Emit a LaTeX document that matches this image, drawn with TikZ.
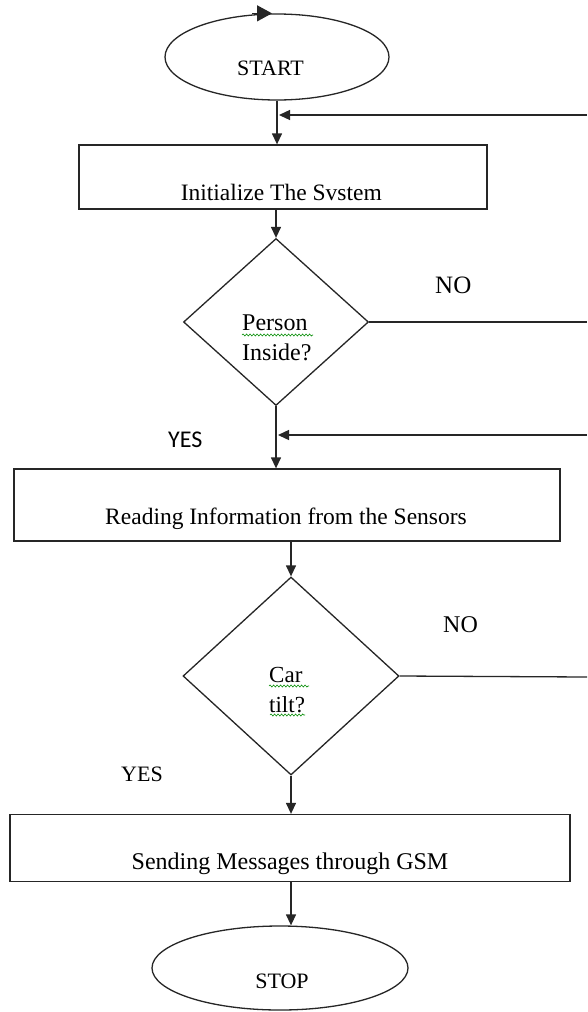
\documentclass[tikz,border=0pt]{standalone}
\usepackage{fontspec}
\setmainfont{Liberation Serif}
\newfontfamily\yesfont{Carlito}
\usetikzlibrary{shapes.geometric,arrows.meta,decorations.pathmorphing}
\begin{document}
\begin{tikzpicture}[x=1pt,y=-1pt,
  line/.style={line width=1.3pt, draw=black!85},
  arr/.style={line, -{Triangle[length=11pt,width=10pt]}},
  term/.style={ellipse, line, inner sep=0pt},
  proc/.style={rectangle, line, inner sep=0pt},
  dec/.style={diamond, line, inner sep=0pt},
  txt/.style={inner sep=0pt, font=\fontsize{23.5}{30}\selectfont},
  fs/.style={font=\fontsize{#1}{30}\selectfont},
  squig/.style={draw=green!55!black, line width=0.6pt, decorate,
    decoration={snake, amplitude=1pt, segment length=3.5pt}}
]
\useasboundingbox (0,0) rectangle (587,1012);
\fill[white] (0,0) rectangle (587,1012);

% shapes
\node[term, minimum width=224pt, minimum height=86pt] (start) at (277,57) {};
\node[proc, minimum width=408pt, minimum height=64pt] (init) at (283,177) {};
\node[dec, minimum width=185pt, minimum height=167pt] (d1) at (276,322) {};
\node[proc, minimum width=546pt, minimum height=72pt] (read) at (287,505) {};
\node[dec, minimum width=216pt, minimum height=198pt] (d2) at (291,676) {};
\node[proc, minimum width=560pt, minimum height=67pt] (send) at (290,848) {};
\node[term, minimum width=256pt, minimum height=84pt] (stop) at (280,968) {};

% texts
\node[txt, fs=22, anchor=base] (tstart) at (270.5,75) {START};
\node[txt, anchor=base east] (tinit) at (382,200) {Initialize The Svstem};
\node[txt, fs=24, anchor=base west, align=left] (td1) at (242,360) {Person\\Inside?};
\node[txt, fs=25, anchor=base west] (no1) at (435,293) {NO};
\node[inner sep=0pt, anchor=base west, font=\yesfont\fontsize{24}{26}\selectfont] (yes1) at (168,447) {YES};
\node[txt, anchor=base] (tread) at (286,524) {Reading Information from the Sensors};
\node[txt, fs=23, anchor=base west, align=left] (td2) at (269,712) {Car\\tilt?};
\node[txt, fs=24, anchor=base west] (no2) at (443,632) {NO};
\node[txt, fs=22, anchor=base west] (yes2) at (121,781) {YES};
\node[txt, fs=24, anchor=base] (tsend) at (290,869) {Sending Messages through GSM};
\node[txt, fs=22, anchor=base] (tstop) at (282,988) {STOP};

% spell-check squiggles
\draw[squig] (242,335) -- (313,335);
\draw[squig] (269,686) -- (309,686);
\draw[squig] (270,715) -- (305,715);

% free ends
\coordinate (fb1) at (587,115);
\coordinate (fb2) at (587,435);
\coordinate (no1end) at (587,322);
\coordinate (no2end) at (587,677);

% connectors
\draw[line, -{Triangle[length=15pt,width=16pt]}] ([xshift=-25pt]start.north) -- ([xshift=-5pt]start.north);
\draw[arr] (start.south) -- (start.south |- init.north);
\draw[arr, shorten >=2pt] (fb1) -- (fb1 -| start.south);
\draw[arr] (d1.north |- init.south) -- (d1.north);
\draw[line] (d1.east) -- (no1end);
\draw[arr] (d1.south) -- (d1.south |- read.north);
\draw[arr, shorten >=2pt] (fb2) -- (fb2 -| d1.south);
\draw[arr] (d2.north |- read.south) -- (d2.north);
\draw[line] (d2.east) -- (no2end);
\draw[arr] (d2.south) -- (d2.south |- send.north);
\draw[arr] (d2.south |- send.south) -- (d2.south |- stop.north);
\end{tikzpicture}
\end{document}
